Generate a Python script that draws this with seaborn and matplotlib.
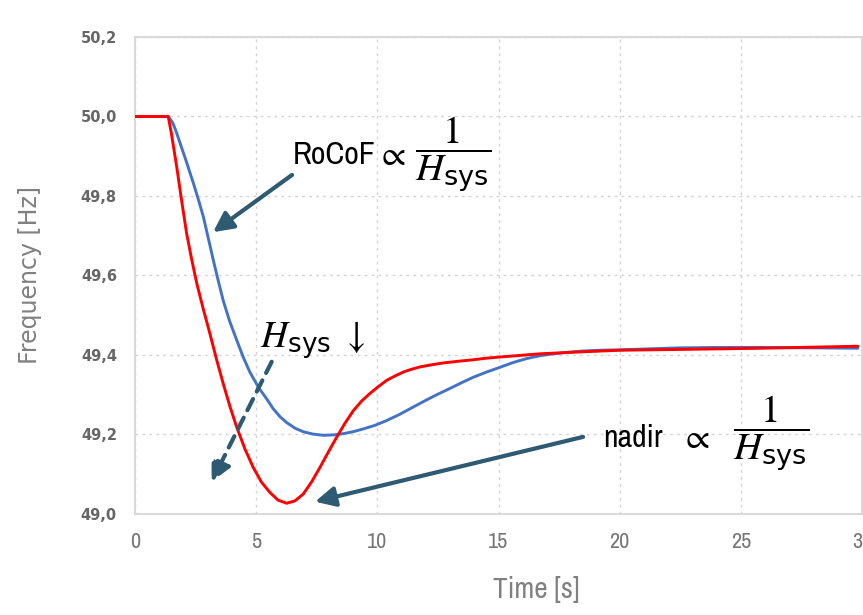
import numpy as np
import pandas as pd
import matplotlib
matplotlib.use("Agg")
import matplotlib.pyplot as plt
from matplotlib import font_manager as fm
import seaborn as sns

# ---- data ----
t_blue = [0, 1.37, 1.55, 1.70, 1.86, 2.10, 2.41, 2.62, 2.82, 3.02, 3.23, 3.43, 3.64,
          3.90, 4.20, 4.47, 4.74, 5.10, 5.43, 5.70, 5.98, 6.26, 6.60, 6.94, 7.35,
          7.77, 8.20, 8.59, 9.00, 9.42, 9.90, 10.38, 10.90, 11.48, 12.00, 12.45,
          13.00, 13.50, 13.96, 14.50, 15.06, 15.60, 16.16, 16.70, 17.26, 17.90,
          18.49, 19.20, 20.00, 21.00, 22.48, 24.00, 25.78, 28.00, 29.83]
f_blue = [50.0, 50.0, 49.985, 49.962, 49.933, 49.89, 49.832, 49.79, 49.748, 49.695,
          49.639, 49.588, 49.537, 49.486, 49.437, 49.394, 49.357, 49.318, 49.290,
          49.265, 49.245, 49.230, 49.216, 49.207, 49.201, 49.198, 49.199, 49.202,
          49.207, 49.214, 49.223, 49.235, 49.250, 49.269, 49.286, 49.300, 49.316,
          49.331, 49.344, 49.357, 49.369, 49.381, 49.391, 49.398, 49.403, 49.407,
          49.410, 49.412, 49.413, 49.415, 49.418, 49.419, 49.419, 49.418, 49.417]

t_red = [0, 1.37, 1.50, 1.72, 1.92, 2.13, 2.34, 2.55, 2.82, 3.09, 3.36, 3.64, 3.92,
         4.20, 4.54, 4.88, 5.22, 5.57, 5.90, 6.26, 6.60, 6.94, 7.28, 7.63, 7.97,
         8.32, 8.66, 9.01, 9.35, 9.69, 10.03, 10.38, 10.72, 11.07, 11.40, 11.76,
         12.20, 12.72, 13.30, 13.96, 14.50, 15.06, 15.90, 16.71, 18.08, 20.00,
         22.48, 25.78, 29.83]
f_red = [50.0, 50.0, 49.958, 49.874, 49.79, 49.706, 49.64, 49.580, 49.515, 49.454,
         49.39, 49.328, 49.27, 49.218, 49.163, 49.117, 49.08, 49.054, 49.035, 49.027,
         49.033, 49.050, 49.08, 49.117, 49.155, 49.193, 49.228, 49.260, 49.284,
         49.303, 49.32, 49.336, 49.347, 49.357, 49.364, 49.370, 49.375, 49.380,
         49.384, 49.388, 49.392, 49.395, 49.399, 49.403, 49.407, 49.412, 49.414,
         49.417, 49.422]

x_ticks = [0, 5, 10, 15, 20, 25, 30]
x_tick_labels = ["0", "5", "10", "15", "20", "25", "30"]
y_ticks = [49.0, 49.2, 49.4, 49.6, 49.8, 50.0, 50.2]
y_tick_labels = ["49,0", "49,2", "49,4", "49,6", "49,8", "50,0", "50,2"]

df = pd.concat([
    pd.DataFrame({"t": t_blue, "f": f_blue, "case": "high"}),
    pd.DataFrame({"t": t_red, "f": f_red, "case": "low"}),
])

sns.set_style("white")

# find a condensed sans font if one is installed
narrow_name = None
for fe in fm.fontManager.ttflist:
    nm = fe.name.lower()
    if "narrow" in nm or "condensed" in nm:
        narrow_name = fe.name
        break
NARROW = [narrow_name, "DejaVu Sans"] if narrow_name else ["DejaVu Sans"]

plt.rcParams["mathtext.fontset"] = "custom"
plt.rcParams["mathtext.it"] = "STIXGeneral:italic"
plt.rcParams["mathtext.rm"] = "STIXGeneral"
plt.rcParams["mathtext.sf"] = "DejaVu Sans"
plt.rcParams["mathtext.cal"] = "STIXGeneral"

fig = plt.figure(figsize=(8.63, 6.15), dpi=100)
ax = fig.add_axes([135/863, 1-514/615, 727/863, 477/615])

sns.lineplot(data=df, x="t", y="f", hue="case", estimator=None, sort=False,
             palette={"high": "#4472C4", "low": "#FF0000"}, linewidth=2.1,
             legend=False, ax=ax, zorder=3)

ax.set_xlim(0, 30)
ax.set_ylim(49.0, 50.2)
ax.tick_params(axis="x", length=0, pad=13)
ax.tick_params(axis="y", length=0, pad=13)
ax.set_xticks(x_ticks)
ax.set_yticks(y_ticks)
ax.set_xticklabels(x_tick_labels, family=NARROW, fontsize=16, color="#767676",
                   fontweight="bold")
ax.set_yticklabels(y_tick_labels, family=["DejaVu Sans"], fontsize=10.5,
                   color="#666666", fontweight="bold")

ax.grid(True, color="#d4d4d4", linestyle=(0, (2, 3)), linewidth=1.0)
for s in ax.spines.values():
    s.set_visible(True)
    s.set_color("#d9d9d9")
    s.set_linewidth(1.5)

ax.set_xlabel("Time [s]", family=NARROW, fontsize=21, color="#808080")
ax.set_ylabel("Frequency [Hz]", family=["DejaVu Sans"], fontsize=17, color="#808080")
ax.xaxis.set_label_coords((536-135)/727, -0.13)
ax.yaxis.set_label_coords(-0.128, 0.5)

ac = "#2E5A72"
ax.annotate("", xy=(3.22, 49.709), xytext=(6.48, 49.853),
            arrowprops=dict(arrowstyle="-|>", color=ac, lw=3, mutation_scale=30,
                            shrinkA=0, shrinkB=0), zorder=5)
ax.annotate("", xy=(3.16, 49.081), xytext=(5.64, 49.383),
            arrowprops=dict(arrowstyle="-|>", color=ac, lw=3, mutation_scale=30,
                            linestyle=(0, (3, 2)), shrinkA=0, shrinkB=0), zorder=5)
ax.annotate("", xy=(7.43, 49.031), xytext=(18.49, 49.194),
            arrowprops=dict(arrowstyle="-|>", color=ac, lw=3, mutation_scale=30,
                            shrinkA=0, shrinkB=0), zorder=5)

frac = r"$\dfrac{1}{H_{\mathsf{sys}}}$"
ax.text(6.52, 49.902, "RoCoF", family=NARROW, fontsize=23,
        color="black", va="center", ha="left", zorder=6)
ax.text(9.95, 49.902, r"$\propto$", fontsize=25, color="black", va="center",
        ha="left", zorder=6)
ax.text(13.12, 49.905, frac, fontsize=28, color="black",
        va="center", ha="center", zorder=6)

ax.text(5.15, 49.437, r"$H_{\mathsf{sys}}\ \downarrow$", fontsize=27, color="black",
        va="center", ha="left", zorder=6)

ax.text(19.3, 49.192, "nadir", family=NARROW, fontsize=23,
        color="black", va="center", ha="left", zorder=6)
ax.text(22.5, 49.192, r"$\propto$", fontsize=25, color="black", va="center",
        ha="left", zorder=6)
ax.text(26.25, 49.203, frac, fontsize=28, color="black",
        va="center", ha="center", zorder=6)

fig.savefig("out.png", dpi=100)
